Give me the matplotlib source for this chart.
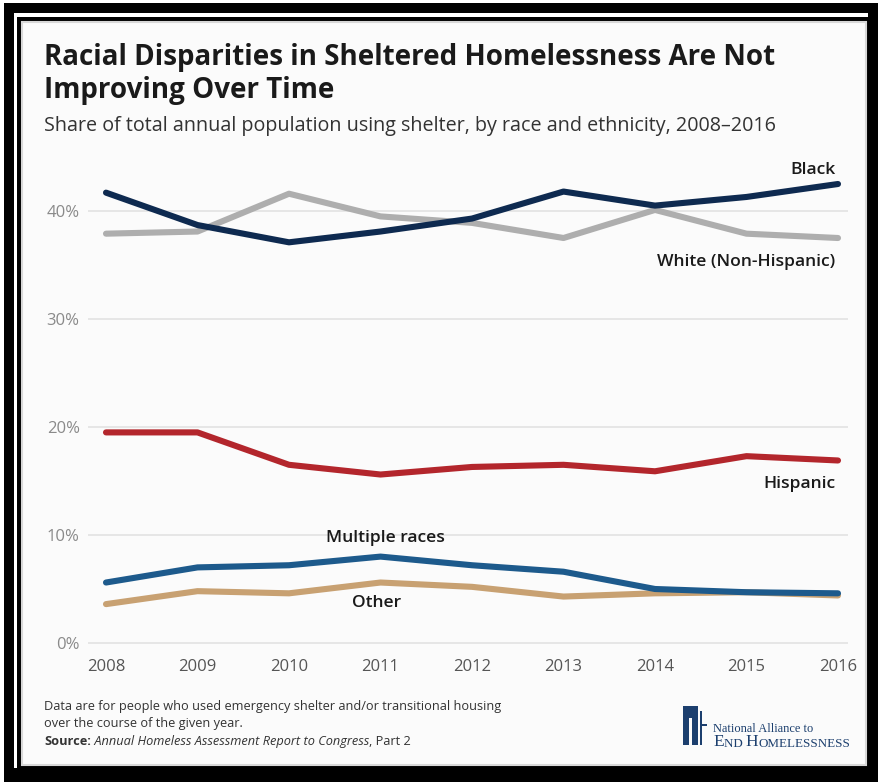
import matplotlib.pyplot as plt
from matplotlib.patches import Rectangle

years = [2008, 2009, 2010, 2011, 2012, 2013, 2014, 2015, 2016]
black = [41.7, 38.7, 37.1, 38.1, 39.3, 41.8, 40.5, 41.3, 42.5]
white = [37.9, 38.1, 41.6, 39.5, 38.9, 37.5, 40.1, 37.9, 37.5]
hispanic = [19.5, 19.5, 16.5, 15.6, 16.3, 16.5, 15.9, 17.3, 16.9]
multiple = [5.6, 7.0, 7.2, 8.0, 7.2, 6.6, 5.0, 4.7, 4.6]
other = [3.6, 4.8, 4.6, 5.6, 5.2, 4.3, 4.6, 4.7, 4.4]
yticks = [0, 10, 20, 30, 40]
ytick_labels = ["0%", "10%", "20%", "30%", "40%"]

W, H = 879, 782
plt.rcParams['font.family'] = ['Open Sans', 'DejaVu Sans']


def px(x, y):
    return x / W, 1 - y / H


def box(x0, y0, x1, y1, z=-10, **kw):
    fig.patches.append(Rectangle(px(x0, y1), (x1 - x0) / W, (y1 - y0) / H,
                                 transform=fig.transFigure, zorder=z, **kw))


fig = plt.figure(figsize=(W / 100, H / 100), dpi=100)
fig.patch.set_facecolor("white")

# double black frame around a white card
box(4, 3, 879, 782, facecolor="black", edgecolor="none")
box(14, 13, 868, 768, facecolor="white", edgecolor="none")
box(17, 17, 868, 768, facecolor="black", edgecolor="none")
box(22, 22, 866, 765, facecolor="#fbfbfb", edgecolor="#d8d8d8", linewidth=1.5)

# titles
fig.text(*px(44, 65), "Racial Disparities in Sheltered Homelessness Are Not",
         fontsize=20, fontweight="bold", color="#1a1a1a", va="baseline")
fig.text(*px(44, 98), "Improving Over Time",
         fontsize=20, fontweight="bold", color="#1a1a1a", va="baseline")
fig.text(*px(44, 131), "Share of total annual population using shelter, by race and ethnicity, 2008\u20132016",
         fontsize=14.2, color="#333333", va="baseline")

# plot area: 0% at y=643, 40% at y=211; gridlines x 88..848
y0pix, y40pix = 643, 211
ppu = (y0pix - y40pix) / 40
ylo, yhi = -1.0, 46.0
bottom = y0pix + (0 - ylo) * ppu
top = y0pix - yhi * ppu
ax = fig.add_axes([88 / W, 1 - bottom / H, 760 / W, (bottom - top) / H])
ax.set_facecolor("none")
xstep = (838 - 106) / 8
ax.set_xlim(2008 - 18 / xstep, 2016 + 10 / xstep)
ax.set_ylim(ylo, yhi)

for v in yticks:
    ax.axhline(v, color="#e2e2e2", linewidth=1.2, zorder=1)

lw = 4.4
ax.plot(years, white, color="#aeaeae", linewidth=lw, solid_capstyle="round", zorder=3)
ax.plot(years, black, color="#0e2a50", linewidth=lw, solid_capstyle="round", zorder=4)
ax.plot(years, hispanic, color="#b3262c", linewidth=lw, solid_capstyle="round", zorder=3)
ax.plot(years, other, color="#c8a172", linewidth=lw, solid_capstyle="round", zorder=3)
ax.plot(years, multiple, color="#1d5a8c", linewidth=lw, solid_capstyle="round", zorder=4)

ax.set_yticks(yticks)
ax.set_yticklabels(ytick_labels)
ax.set_xticks(years)
ax.tick_params(axis="y", length=0, pad=6, labelsize=12, labelcolor="#8a8a8a")
ax.tick_params(axis="x", length=0, pad=4, labelsize=12, labelcolor="#555555")
for s in ax.spines.values():
    s.set_visible(False)

# series labels
lab = dict(fontsize=12.6, fontweight="semibold", color="#1a1a1a")
ax.text(2016 - 0.03, 43.8, "Black", ha="right", va="center", **lab)
ax.text(2016 - 0.03, 35.3, "White (Non-Hispanic)", ha="right", va="center", **lab)
ax.text(2016 - 0.03, 14.7, "Hispanic", ha="right", va="center", **lab)
ax.text(2011.05, 9.7, "Multiple races", ha="center", va="center", **lab)
ax.text(2010.96, 3.7, "Other", ha="center", va="center", **lab)

# footer
fs = 9.2
fig.text(*px(44, 710), "Data are for people who used emergency shelter and/or transitional housing",
         fontsize=fs, color="#333333", va="baseline")
fig.text(*px(44, 727), "over the course of the given year.",
         fontsize=fs, color="#333333", va="baseline")
t = fig.text(*px(44, 745), "Source:", fontsize=fs, fontweight="bold", color="#333333", va="baseline")
ann = ax.annotate(" Annual Homeless Assessment Report to Congress", xy=(1, 0), xycoords=t,
                  fontsize=fs, style="italic", color="#333333", va="bottom",
                  annotation_clip=False)
ax.annotate(", Part 2", xy=(1, 0), xycoords=ann, fontsize=fs, color="#333333",
            va="bottom", annotation_clip=False)

# logo
navy = "#1c3f6e"
box(683, 706, 698, 745, z=-5, facecolor=navy, edgecolor="none")
box(689, 718, 692, 745, z=-4, facecolor="#fbfbfb", edgecolor="none")
box(700, 711, 702.5, 745, z=-5, facecolor=navy, edgecolor="none")
box(700, 724, 707, 726, z=-5, facecolor=navy, edgecolor="none")
fig.text(*px(713, 732), "National Alliance to", fontsize=8.9, family="Liberation Serif",
         color=navy, va="baseline")
e = fig.text(*px(713, 746), "E", fontsize=12.5, family="Liberation Serif", color=navy, va="baseline")
a1 = ax.annotate("ND ", xy=(1, 0), xycoords=e, fontsize=9.4, family="Liberation Serif",
                 color=navy, va="bottom", annotation_clip=False)
a2 = ax.annotate("H", xy=(1, 0), xycoords=a1, fontsize=12.5, family="Liberation Serif",
                 color=navy, va="bottom", annotation_clip=False)
ax.annotate("OMELESSNESS", xy=(1, 0), xycoords=a2, fontsize=9.4, family="Liberation Serif",
            color=navy, va="bottom", annotation_clip=False)

fig.savefig("out.png", dpi=100)
